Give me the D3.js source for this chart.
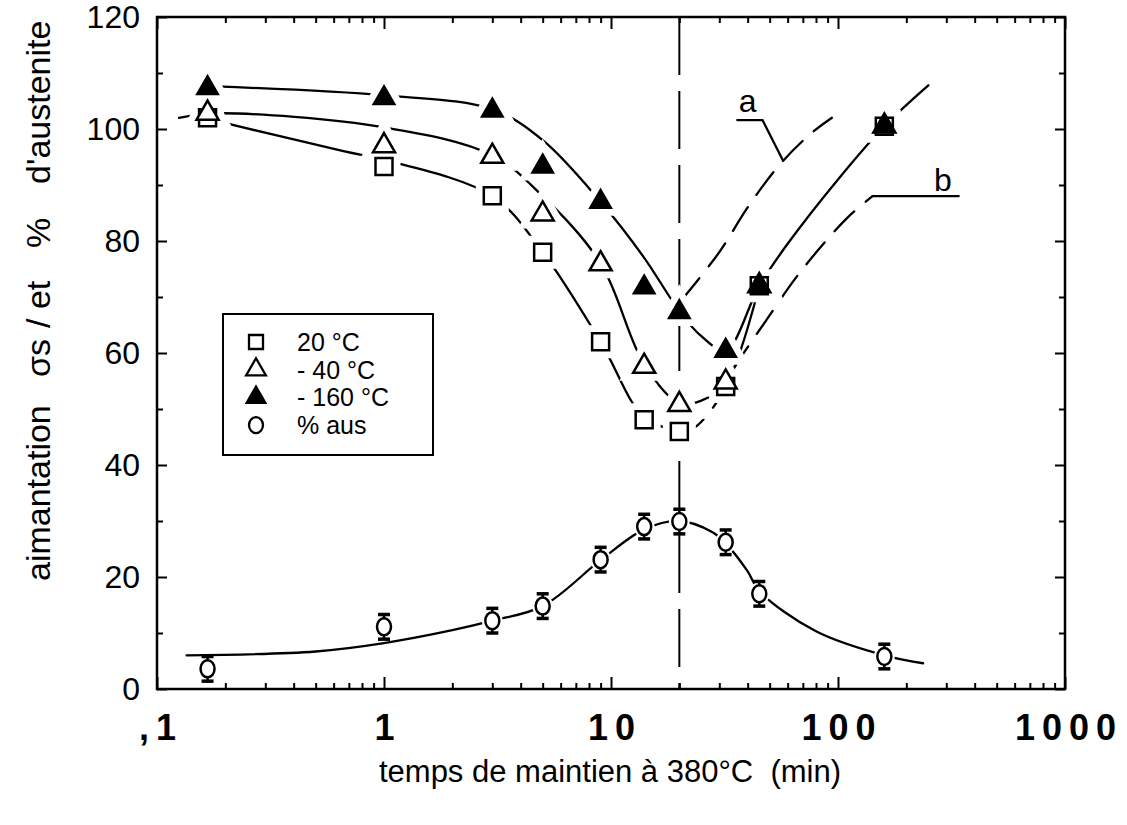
<!DOCTYPE html>
<html>
<head>
<meta charset="utf-8">
<script src="https://cdn.jsdelivr.net/npm/d3@7/dist/d3.min.js"></script>
<style>
  body { margin: 0; background: #fff; }
  text { font-family: "Liberation Sans", Arial, Helvetica, sans-serif; fill: #000; }
</style>
</head>
<body>
<svg id="chart" width="1127" height="825"></svg>
<script>
// measured points (time in min, value)
const times = [0.167, 1, 3, 5, 9, 14, 20, 32, 45, 160];
const mag20 = [102, 93.3, 88.1, 78, 62, 48.1, 46, 54, 72, 100.5];
const magM40 = [102.8, 97, 95.1, 84.8, 75.9, 57.6, 50.8, 54.8, 72, 100.5];
const magM160 = [107.3, 105.5, 103.3, 93.3, 87, 71.7, 67.3, 60.4, 72, 100.5];
const austenite = [3.6, 11.1, 12.2, 14.8, 23.1, 29, 29.9, 26.2, 17, 5.8];
const austErr = 2.2;

// hand drawn guide curves
const curve20 = [[0.18, 101.5], [0.67, 96], [1, 94.5], [3, 88], [5, 78], [9, 62], [14, 48.5], [20, 46]];
const curveM40 = [[0.125, 102], [0.18, 102.8], [1, 100.3], [3, 95.3], [5, 88], [9, 76], [14, 58], [20, 51], [25, 51.5], [32, 54.5], [45, 72]];
const curveM160 = [[0.18, 107.6], [1, 106], [3, 103.5], [5, 98], [9, 87], [14, 77], [20, 67.5], [25, 63], [32, 60.5], [45, 72], [60, 79.5], [100, 91], [160, 100.5], [250, 107.8]];
const curveA = [[20.5, 69.5], [30, 78], [40, 86], [55, 93.5], [75, 99], [94, 102]];
const curveB = [[20, 46], [23, 46.5], [29, 51], [34.5, 57], [48.6, 66], [68, 74.4], [109, 84], [142, 88]];
const curveAus = [[0.135, 6], [0.5, 6.7], [1, 8.2], [2, 10.5], [3, 12.2], [5, 14.8], [9, 23], [14, 28.5], [20, 30], [28, 28], [32, 26], [40, 21], [45, 17.5], [80, 10.3], [160, 6], [237, 4.6]];
const leaderA = [[36, 101.6], [46.5, 101.6], [57, 94.5]];
const leaderB = [[142, 88], [340, 88]];
const labelA = [40, 103];
const labelB = [290, 89];
const markerTime = 20;

const xDecades = [0.1, 1, 10, 100, 1000];
const xLabels = [',1', '1', '10', '100', '1000'];
const yMajor = [0, 20, 40, 60, 80, 100, 120];
const yMinor = [10, 30, 50, 70, 90, 110];
const legendLabels = ['20 °C', '- 40 °C', '- 160 °C', '% aus'];
const yTitleParts = ['aimantation', 'σs', '/ et', '%', "d'austenite"];
const xTitle = 'temps de maintien à 380°C  (min)';

const svg = d3.select('#chart');
const x = d3.scaleLog().domain([0.1, 1000]).range([157, 1065]);
const y = d3.scaleLinear().domain([0, 120]).range([689, 17]);
const [x0, x1] = x.range();
const [yb, yt] = y.range();

const xMinor = [];
[0.1, 1, 10, 100].forEach((d) => {
  for (let k = 2; k < 10; k++) xMinor.push(d * k);
});

// ticks, all pointing inward
function addAxis(axis, tx, ty) {
  const g = svg.append('g').attr('transform', `translate(${tx},${ty})`).call(axis);
  g.select('.domain').remove();
  g.selectAll('line').attr('stroke', '#000').attr('stroke-width', 2);
  return g;
}
addAxis(d3.axisBottom(x).tickValues(xMinor).tickSize(-6).tickFormat(''), 0, yb);
addAxis(d3.axisTop(x).tickValues(xMinor).tickSize(-6).tickFormat(''), 0, yt);
addAxis(d3.axisTop(x).tickValues(xDecades).tickSize(-12).tickFormat(''), 0, yt);
const xAxis = addAxis(
  d3.axisBottom(x).tickValues(xDecades).tickSize(-12).tickPadding(25)
    .tickFormat((d, i) => xLabels[i]), 0, yb);
xAxis.selectAll('text')
  .attr('font-size', 36).attr('font-weight', 'bold')
  .attr('letter-spacing', 7).attr('dx', 3.5)
  .style('font-family', '"Liberation Sans", Arial, sans-serif');

addAxis(d3.axisLeft(y).tickValues(yMinor).tickSize(-6).tickFormat(''), x0, 0);
addAxis(d3.axisRight(y).tickValues(yMinor).tickSize(-6).tickFormat(''), x1, 0);
addAxis(d3.axisRight(y).tickValues(yMajor).tickSize(-10).tickFormat(''), x1, 0);
const yAxis = addAxis(d3.axisLeft(y).tickValues(yMajor).tickSize(-10).tickPadding(17), x0, 0);
yAxis.selectAll('text')
  .attr('font-size', 32)
  .style('font-family', '"Liberation Sans", Arial, sans-serif');

svg.append('rect')
  .attr('x', x0).attr('y', yt)
  .attr('width', x1 - x0).attr('height', yb - yt)
  .attr('fill', 'none').attr('stroke', '#000').attr('stroke-width', 2.5);

// vertical dashed line at 20 min
svg.append('line')
  .attr('x1', x(markerTime)).attr('x2', x(markerTime))
  .attr('y1', yt).attr('y2', yb)
  .attr('stroke', '#000').attr('stroke-width', 2)
  .attr('stroke-dasharray', '58,16');

// curves
const line = d3.line()
  .x((d) => x(d[0]))
  .y((d) => y(d[1]))
  .curve(d3.curveCatmullRom.alpha(0.5));
const straight = d3.line().x((d) => x(d[0])).y((d) => y(d[1]));

function drawCurve(data, dash, gen) {
  svg.append('path')
    .attr('d', (gen || line)(data))
    .attr('fill', 'none').attr('stroke', '#000')
    .attr('stroke-width', 2.3)
    .attr('stroke-linecap', 'round')
    .attr('stroke-dasharray', dash || null);
}
drawCurve(curve20);
drawCurve(curveM40);
drawCurve(curveM160);
drawCurve(curveA, '28,15');
drawCurve(curveB, '28,15');
drawCurve(curveAus);
drawCurve(leaderA, null, straight);
drawCurve(leaderB, null, straight);

svg.append('text').attr('x', x(labelA[0])).attr('y', y(labelA[1]))
  .attr('font-size', 32).attr('text-anchor', 'middle').text('a');
svg.append('text').attr('x', x(labelB[0])).attr('y', y(labelB[1]))
  .attr('font-size', 32).attr('text-anchor', 'middle').text('b');

// markers
const sq = d3.symbol().type(d3.symbolSquare).size(289)();
const triOpen = d3.symbol().type(d3.symbolTriangle).size(210)();
const triFull = d3.symbol().type(d3.symbolTriangle).size(180)();

const series = [
  { values: mag20, path: sq, fill: '#fff' },
  { values: magM40, path: triOpen, fill: '#fff' },
  { values: magM160, path: triFull, fill: '#000' }
];

// white halos first so the curves break around the markers
series.forEach((s) => {
  svg.append('g').selectAll('path').data(s.values).join('path')
    .attr('transform', (d, i) => `translate(${x(times[i])},${y(d)})`)
    .attr('d', s.path)
    .attr('fill', '#fff').attr('stroke', '#fff').attr('stroke-width', 16);
});
svg.append('g').selectAll('ellipse').data(austenite).join('ellipse')
  .attr('cx', (d, i) => x(times[i])).attr('cy', (d) => y(d))
  .attr('rx', 8).attr('ry', 9)
  .attr('fill', '#fff').attr('stroke', '#fff').attr('stroke-width', 5);

series.forEach((s) => {
  svg.append('g').selectAll('path').data(s.values).join('path')
    .attr('transform', (d, i) => `translate(${x(times[i])},${y(d)})`)
    .attr('d', s.path)
    .attr('fill', s.fill).attr('stroke', '#000').attr('stroke-width', 2.5)
    .attr('stroke-linejoin', 'miter');
});

// austenite with error bars
const aus = svg.append('g').selectAll('g').data(austenite).join('g')
  .attr('transform', (d, i) => `translate(${x(times[i])},0)`);
aus.append('line')
  .attr('y1', (d) => y(d + austErr)).attr('y2', (d) => y(d - austErr))
  .attr('stroke', '#000').attr('stroke-width', 2.5);
aus.append('line').attr('x1', -6).attr('x2', 6)
  .attr('y1', (d) => y(d + austErr)).attr('y2', (d) => y(d + austErr))
  .attr('stroke', '#000').attr('stroke-width', 3.5);
aus.append('line').attr('x1', -6).attr('x2', 6)
  .attr('y1', (d) => y(d - austErr)).attr('y2', (d) => y(d - austErr))
  .attr('stroke', '#000').attr('stroke-width', 3.5);
aus.append('ellipse')
  .attr('cy', (d) => y(d)).attr('rx', 7).attr('ry', 8.5)
  .attr('fill', '#fff').attr('stroke', '#000').attr('stroke-width', 2.5);

// legend
const legend = svg.append('g').attr('transform', 'translate(223,314)');
legend.append('rect').attr('width', 210).attr('height', 141)
  .attr('fill', '#fff').attr('stroke', '#000').attr('stroke-width', 2);
const legendShapes = [
  { path: d3.symbol().type(d3.symbolSquare).size(196)(), fill: '#fff' },
  { path: d3.symbol().type(d3.symbolTriangle).size(170)(), fill: '#fff' },
  { path: d3.symbol().type(d3.symbolTriangle).size(150)(), fill: '#000' },
  { path: null, fill: '#fff' }
];
legendLabels.forEach((label, i) => {
  const cy = 28 + i * 27.7;
  const row = legend.append('g').attr('transform', `translate(33,${cy})`);
  if (legendShapes[i].path) {
    row.append('path').attr('d', legendShapes[i].path)
      .attr('fill', legendShapes[i].fill).attr('stroke', '#000').attr('stroke-width', 2.3);
  } else {
    row.append('ellipse').attr('rx', 7).attr('ry', 8)
      .attr('fill', '#fff').attr('stroke', '#000').attr('stroke-width', 2.3);
  }
  row.append('text').attr('x', 41).attr('dy', '0.36em')
    .attr('font-size', 25).style('white-space', 'pre').text(label);
});

// axis titles
const yTitle = svg.append('text')
  .attr('transform', 'translate(50,581) rotate(-90)')
  .attr('font-size', 34);
const yTitleOffsets = [0, 204, 253, 333, 397];
yTitleParts.forEach((part, i) => {
  yTitle.append('tspan').attr('x', yTitleOffsets[i]).attr('y', 0).text(part);
});

svg.append('text')
  .attr('x', 610).attr('y', 782)
  .attr('text-anchor', 'middle')
  .attr('font-size', 31)
  .style('white-space', 'pre')
  .text(xTitle);
</script>
</body>
</html>
